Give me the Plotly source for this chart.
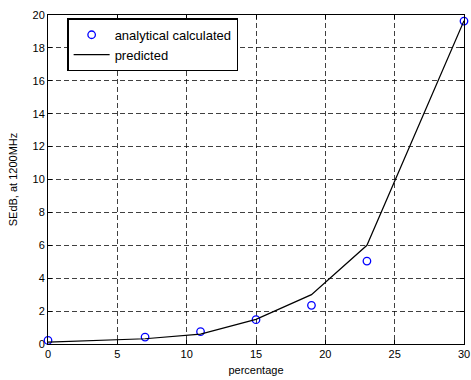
import plotly.graph_objects as go

percentage = [0, 7, 11, 15, 19, 23, 30]
analytical = [0.22, 0.42, 0.75, 1.48, 2.35, 5.04, 19.63]
predicted = [0.12, 0.32, 0.6, 1.5, 3.0, 6.0, 19.65]

x_ticks = [0, 5, 10, 15, 20, 25, 30]
y_ticks = [0, 2, 4, 6, 8, 10, 12, 14, 16, 18, 20]

font = dict(family="Liberation Sans, Arial, Helvetica, sans-serif", size=11, color="#000")

fig = go.Figure()
fig.add_trace(go.Scatter(
    x=percentage, y=analytical, mode="markers", name="analytical calculated",
    marker=dict(symbol="circle-open", size=7.5, color="#0000ff", line=dict(width=1.3, color="#0000ff")),
    cliponaxis=False,
))
fig.add_trace(go.Scatter(
    x=percentage, y=predicted, mode="lines", name="predicted",
    line=dict(color="#000", width=1.2),
    cliponaxis=False,
))

axis_common = dict(
    showline=True, linecolor="#000", linewidth=1, mirror="ticks",
    ticks="inside", ticklen=4, tickcolor="#000", tickwidth=1,
    showgrid=True, gridcolor="rgba(0,0,0,0.75)", gridwidth=1, griddash="5px,3px",
    zeroline=False, tickfont=font, automargin=False, ticklabeloverflow="allow",
)

fig.update_layout(
    width=471, height=380,
    margin=dict(l=48, r=7, t=15, b=36),
    paper_bgcolor="white", plot_bgcolor="white",
    font=font,
    showlegend=True,
    legend=dict(
        x=0.046, y=0.99, xanchor="left", yanchor="top",
        bordercolor="#000", borderwidth=1.5, bgcolor="white",
        font=dict(family=font["family"], size=13, color="#000"),
        tracegroupgap=0, itemwidth=36,
    ),
    xaxis=dict(range=[0, 30], tickvals=x_ticks, title=dict(text="percentage", standoff=7, font=font), **axis_common),
    yaxis=dict(range=[0, 20], tickvals=y_ticks, title=dict(text="SEdB, at 1200MHz", standoff=12, font=font), **axis_common),
)

fig.write_html(
    "out.html",
    config={"displayModeBar": False},
    post_script=(
        "document.body.style.margin='0';document.body.style.padding='0';"
        "document.documentElement.style.overflow='hidden';document.body.style.overflow='hidden';"
    ),
)
